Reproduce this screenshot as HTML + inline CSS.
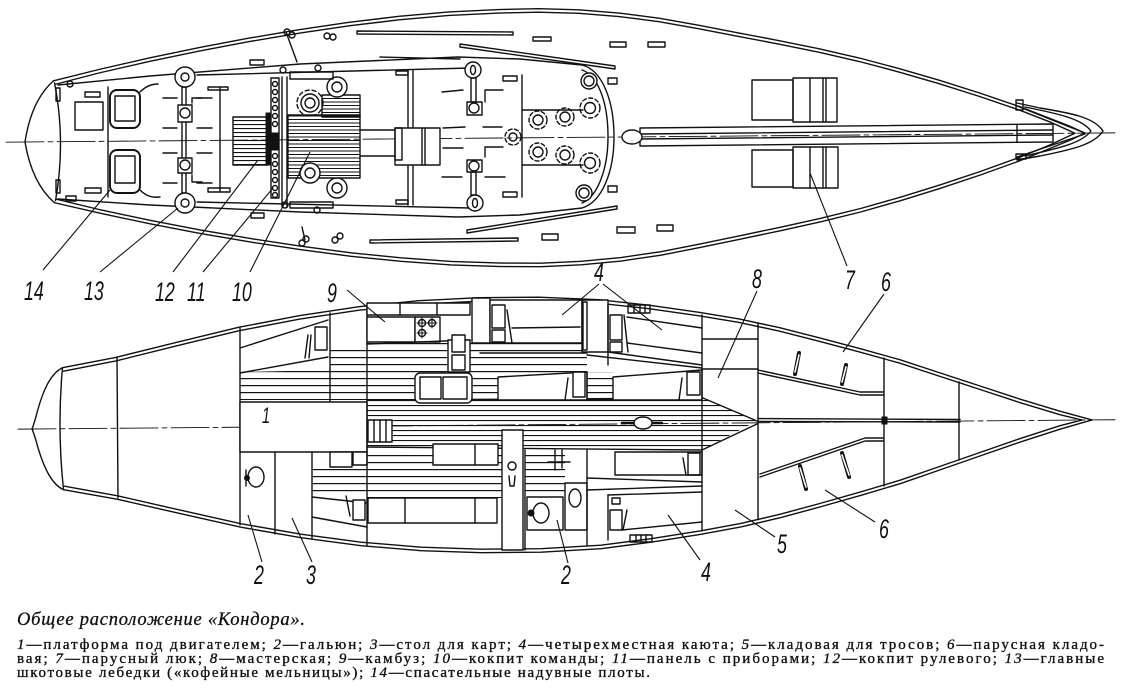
<!DOCTYPE html>
<html><head><meta charset="utf-8">
<style>
html,body{margin:0;padding:0;background:#fff;}
svg{display:block}
.s{fill:none;stroke:#111;stroke-width:1.4;stroke-linejoin:round;stroke-linecap:round}
.w{fill:#fff;stroke:#111;stroke-width:1.4}
.b{fill:#111;stroke:#111;stroke-width:1}
.ld{stroke:#111;stroke-width:1.1;fill:none}
.lb{font-family:"Liberation Sans",sans-serif;font-style:italic;font-size:27px;fill:#111}
.cap{font-family:"Liberation Serif","Noto Serif CJK SC",serif;font-size:15px;fill:#111;stroke:#111;stroke-width:0.35}
.ti{font-family:"Liberation Serif","Noto Serif CJK SC",serif;font-style:italic;font-size:18.5px;fill:#111;stroke:#111;stroke-width:0.3}
</style></head><body>
<svg width="1122" height="689" viewBox="0 0 1122 689" xmlns="http://www.w3.org/2000/svg">
<defs>
<pattern id="h4" width="8" height="4" patternUnits="userSpaceOnUse"><rect width="8" height="1.1" fill="#111"/></pattern>
<pattern id="h35" width="8" height="3.5" patternUnits="userSpaceOnUse"><rect width="8" height="1" fill="#111"/></pattern>
<pattern id="h7" width="8" height="7" patternUnits="userSpaceOnUse"><rect width="8" height="1.2" fill="#111"/></pattern>
<pattern id="h5" width="8" height="5" patternUnits="userSpaceOnUse"><rect width="8" height="1.1" fill="#111"/></pattern>
</defs>

<!-- ================= TOP PLAN HULL ================= -->
<g class="s" transform="translate(0,142) rotate(-0.48,25,0)">
<path d="M54,-61 C38,-47 29,-25 25,0 C29,25 38,47 54,61"/>
<path d="M55,-59 Q66,0 55,59"/>
<polyline points="54,-61 100,-72 150,-83 200,-93 250,-102 300,-110 350,-117 400,-122.5 450,-126.5 500,-128.5 540,-129 580,-127.5 620,-124 660,-118.5 700,-111 740,-103 780,-95 820,-86.5 860,-77 900,-66 940,-54 980,-41 1020,-27 1050,-15 1070,-7 1085,0"/>
<polyline points="54,61 100,72 150,83 200,93 250,102 300,110 350,117 400,122.5 450,126.5 500,128.5 540,129 580,127.5 620,124 660,118.5 700,111 740,103 780,95 820,86.5 860,77 900,66 940,54 980,41 1020,27 1050,15 1070,7 1085,0"/>
<polyline points="56,-57.5 100,-68.5 150,-79.5 200,-89.5 250,-98.5 300,-106.5 350,-113.5 400,-119 450,-123 500,-125 540,-125.5 580,-124 620,-120.5 660,-115 700,-107.5 740,-99.5 780,-91.5 820,-83 860,-73.5 900,-62.5 940,-50.5 980,-37.5 1020,-23.5 1050,-11.5 1075,0"/>
<polyline points="56,57.5 100,68.5 150,79.5 200,89.5 250,98.5 300,106.5 350,113.5 400,119 450,123 500,125 540,125.5 580,124 620,120.5 660,115 700,107.5 740,99.5 780,91.5 820,83 860,73.5 900,62.5 940,50.5 980,37.5 1020,23.5 1050,11.5 1075,0"/>
<line x1="6" y1="0" x2="1118" y2="0" stroke-width="0.9" stroke-dasharray="38 4 5 4"/>
</g>

<!-- ================= TOP PLAN DETAILS ================= -->
<g class="s">
<path d="M58,85 L150,76 L300,64 L458,57 L520,59 L582,65 C602,70 614,100 614,137 C614,172 602,202 582,208 L520,215 L458,217 L300,212 L150,205 L58,199"/>
<path d="M582,70 C597,75 608,100 608,137 C608,170 597,197 582,203"/>
<line x1="197" y1="75" x2="470" y2="68"/>
<line x1="197" y1="202" x2="470" y2="208"/>
<line x1="108" y1="87" x2="108" y2="197"/>
<rect x="75" y="102" width="28" height="28"/>
<rect x="110" y="90" width="30" height="38" rx="7" stroke-width="1.9"/>
<rect x="115" y="96" width="20" height="25"/>
<rect x="110" y="150" width="30" height="43" rx="7" stroke-width="1.9"/>
<rect x="115" y="156" width="20" height="27"/>
<path d="M140,92 C146,86 152,84 158,84"/>
<path d="M140,190 C146,196 152,198 160,197"/>
<rect x="85" y="92" width="15" height="5"/>
<rect x="85" y="188" width="16" height="5"/>
<rect x="56" y="88" width="4" height="13"/>
<rect x="56" y="180" width="4" height="13"/>
<circle cx="70" cy="84" r="3"/>
<rect x="66" y="196" width="10" height="5"/>
<line x1="163" y1="98" x2="177" y2="98"/><line x1="197" y1="98" x2="212" y2="98"/>
<line x1="163" y1="128" x2="177" y2="128"/><line x1="197" y1="128" x2="212" y2="128"/>
<line x1="163" y1="153" x2="177" y2="153"/><line x1="197" y1="153" x2="212" y2="153"/>
<line x1="163" y1="183" x2="177" y2="183"/><line x1="197" y1="183" x2="212" y2="183"/>
<polyline points="192,103 192,98 202,98"/><polyline points="192,175 192,182 202,182"/>
<rect x="182" y="87" width="4" height="106"/>
<rect class="w" x="178" y="105" width="14" height="17"/>
<circle cx="185" cy="113" r="5"/>
<rect class="w" x="178" y="158" width="14" height="15"/>
<circle cx="185" cy="165" r="5"/>
<circle class="w" cx="185" cy="77" r="10" stroke-width="1.9"/>
<circle cx="185" cy="77" r="4"/>
<circle class="w" cx="185" cy="203" r="10" stroke-width="2.4"/>
<circle cx="185" cy="203" r="4"/>
<line x1="220" y1="88" x2="220" y2="192"/>
<rect x="208" y="87" width="20" height="3"/>
<rect x="208" y="188" width="22" height="4"/>
<rect x="233" y="117" width="35" height="48" fill="url(#h4)"/>
<rect class="b" x="266" y="113" width="4" height="52"/>
<rect x="271" y="78" width="8" height="120"/>
<g>
<circle cx="275" cy="84" r="2.5"/><circle cx="275" cy="92" r="2.5"/><circle cx="275" cy="100" r="2.5"/><circle cx="275" cy="108" r="2.5"/><circle cx="275" cy="116" r="2.5"/><circle cx="275" cy="124" r="2.5"/>
<circle cx="275" cy="156" r="2.5"/><circle cx="275" cy="164" r="2.5"/><circle cx="275" cy="172" r="2.5"/><circle cx="275" cy="180" r="2.5"/><circle cx="275" cy="188" r="2.5"/><circle cx="275" cy="195" r="2.5"/>
</g>
<rect class="b" x="271" y="133" width="8" height="17"/>
<line x1="282" y1="77" x2="282" y2="207"/>
<line x1="287" y1="77" x2="287" y2="207"/>
<rect x="288" y="115" width="72" height="63" fill="url(#h35)"/>
<rect x="322" y="95" width="38" height="22" fill="url(#h35)"/>
<circle class="w" cx="337" cy="87" r="10"/><circle cx="337" cy="87" r="5"/>
<circle cx="310" cy="103" r="13" stroke-dasharray="4 3"/>
<circle class="w" cx="310" cy="103" r="9"/><circle cx="310" cy="103" r="5"/>
<circle class="w" cx="310" cy="173" r="10"/><circle cx="310" cy="173" r="5"/>
<circle class="w" cx="337" cy="188" r="10"/><circle cx="337" cy="188" r="5"/>
<circle cx="283" cy="70" r="3"/><circle cx="318" cy="68" r="3"/>
<rect x="290" y="72" width="43" height="7"/>
<circle cx="285" cy="205" r="3"/><circle cx="317" cy="210" r="3"/>
<rect x="290" y="202" width="43" height="6"/>
<line x1="286" y1="32" x2="297" y2="62"/>
<circle cx="287" cy="32" r="3"/><circle cx="292" cy="35" r="3"/>
<circle cx="327" cy="36" r="3"/><circle cx="333" cy="37" r="3"/>
<line x1="302" y1="227" x2="305" y2="240"/>
<circle cx="302" cy="243" r="3"/><circle cx="306" cy="239" r="3"/>
<circle cx="335" cy="240" r="3"/><circle cx="340" cy="236" r="3"/>
<line x1="360" y1="130" x2="395" y2="130"/>
<line x1="360" y1="156" x2="395" y2="156"/>
<line x1="408" y1="70" x2="408" y2="205"/>
<line x1="413" y1="70" x2="413" y2="205"/>
<rect class="w" x="395" y="128" width="45" height="37"/>
<rect x="395" y="128" width="7" height="32"/>
<line x1="422" y1="128" x2="422" y2="165"/>
<line x1="425" y1="128" x2="425" y2="165"/>
<rect x="471" y="78" width="5" height="24"/>
<rect class="w" x="467" y="102" width="15" height="13"/><circle cx="474" cy="108" r="5"/>
<circle class="w" cx="473" cy="70" r="8" stroke-width="2.2"/><ellipse cx="473" cy="70" rx="2.5" ry="4.5"/>
<rect x="471" y="172" width="5" height="23"/>
<rect class="w" x="467" y="160" width="15" height="12"/><circle cx="474" cy="166" r="5"/>
<circle class="w" cx="475" cy="203" r="8" stroke-width="2.8"/><ellipse cx="475" cy="203" rx="2.5" ry="4.5"/>
<line x1="442" y1="92" x2="463" y2="90"/><polyline points="485,102 485,90 503,90"/>
<line x1="443" y1="128" x2="465" y2="127"/><line x1="483" y1="127" x2="502" y2="127"/>
<line x1="443" y1="148" x2="463" y2="148"/><polyline points="503,147 485,147 485,157"/>
<line x1="442" y1="177" x2="462" y2="177"/><line x1="485" y1="177" x2="505" y2="177"/>
<rect x="503" y="76" width="14" height="5"/>
<rect x="503" y="192" width="14" height="5"/>
<line x1="522" y1="75" x2="522" y2="197"/>
<line x1="522" y1="110" x2="583" y2="110"/>
<line x1="522" y1="165" x2="583" y2="165"/>
<circle cx="513" cy="137" r="8" stroke-dasharray="4 2.5"/><circle cx="513" cy="137" r="4"/>
<circle cx="538" cy="120" r="9" stroke-dasharray="4 2.5"/><circle cx="538" cy="120" r="5"/>
<circle cx="565" cy="117" r="9" stroke-dasharray="4 2.5"/><circle cx="565" cy="117" r="5"/>
<circle cx="538" cy="152" r="9" stroke-dasharray="4 2.5"/><circle cx="538" cy="152" r="5"/>
<circle cx="565" cy="155" r="9" stroke-dasharray="4 2.5"/><circle cx="565" cy="155" r="5"/>
<circle class="w" cx="589" cy="81" r="8"/><circle cx="589" cy="81" r="5"/>
<circle cx="590" cy="108" r="10" stroke-dasharray="4 2.5"/><circle cx="590" cy="108" r="5.5"/>
<circle cx="590" cy="163" r="10" stroke-dasharray="4 2.5"/><circle cx="590" cy="163" r="5.5"/>
<circle class="w" cx="584" cy="193" r="8"/><circle cx="584" cy="193" r="5"/>
<rect x="608" y="78" width="9" height="6"/><rect x="608" y="186" width="9" height="6"/>
<polygon points="357,31 513,32 513,35 357,34"/>
<polygon points="370,240 518,238 518,241 370,243"/>
<polygon points="460,44 615,66 615,69 460,47"/>
<polygon points="467,230 617,206 617,209 467,233"/>
<line x1="380" y1="57" x2="460" y2="59"/>
<rect x="533" y="37" width="18" height="4"/>
<rect x="610" y="42" width="16" height="5"/>
<rect x="648" y="42" width="17" height="5"/>
<rect x="250" y="60" width="14" height="5"/>
<rect x="617" y="227" width="18" height="6"/>
<rect x="657" y="225" width="16" height="6"/>
<rect x="542" y="234" width="16" height="6"/>
<rect x="251" y="213" width="13" height="5"/>
<rect x="396" y="71" width="12" height="4"/><rect x="396" y="200" width="12" height="4"/>
<polygon points="640,128 1053,124 1053,142 640,146"/>
<line x1="640" y1="134" x2="1053" y2="130"/>
<line x1="640" y1="139" x2="1053" y2="135"/>
<line x1="1017" y1="125" x2="1017" y2="142"/>
<ellipse class="w" cx="632" cy="137" rx="10" ry="7"/>
<rect x="752" y="80" width="41" height="40"/>
<rect x="793" y="78" width="44" height="44"/>
<line x1="810" y1="78" x2="810" y2="122"/><line x1="823" y1="78" x2="823" y2="122"/><line x1="826" y1="78" x2="826" y2="122"/>
<rect x="752" y="150" width="41" height="37"/>
<rect x="793" y="147" width="45" height="41"/>
<line x1="810" y1="147" x2="810" y2="188"/><line x1="823" y1="147" x2="823" y2="188"/><line x1="826" y1="147" x2="826" y2="188"/>
<path d="M1017,103 L1040,108 C1070,113 1094,117 1103,131 C1094,145 1070,150 1040,156 L1017,160"/>
<path d="M1025,107 C1060,114 1082,119 1091,131 C1082,143 1060,148 1025,156"/>
<line x1="1017" y1="106" x2="1085" y2="133"/>
<line x1="1017" y1="157" x2="1085" y2="134"/>
<rect x="1016" y="100" width="7" height="10"/>
<rect x="1016" y="154" width="10" height="5"/>
</g>

<g class="ld">
<line x1="43" y1="270" x2="110" y2="190"/>
<line x1="100" y1="272" x2="178" y2="208"/>
<line x1="173" y1="272" x2="258" y2="160"/>
<line x1="203" y1="272" x2="273" y2="188"/>
<line x1="250" y1="272" x2="310" y2="152"/>
<line x1="847" y1="266" x2="810" y2="173"/>
</g>
<text class="lb" transform="translate(24,300) scale(0.66,1)">14</text>
<text class="lb" transform="translate(84,300) scale(0.66,1)">13</text>
<text class="lb" transform="translate(155,301) scale(0.66,1)">12</text>
<text class="lb" transform="translate(187,301) scale(0.66,1)">11</text>
<text class="lb" transform="translate(232,301) scale(0.66,1)">10</text>
<text class="lb" transform="translate(845,289) scale(0.66,1)">7</text>

<!-- ================= BOTTOM PLAN HULL ================= -->
<g class="s" transform="translate(0,429) rotate(-0.49,32,0)">
<path d="M63,-61 C50,-55 42,-35 36,-12 Q33,-2 32,0 Q33,2 36,12 C42,35 50,55 63,61"/>
<path d="M63,-61 Q57,0 63,61"/>
<polyline points="63,-61 117,-71 180,-86 240,-100 300,-111 360,-119.5 420,-125 480,-127.5 540,-127.5 600,-124.5 650,-118.5 700,-111 740,-104 780,-95 820,-84.5 860,-73.5 900,-62 940,-48.5 980,-35 1020,-21.5 1060,-9 1092,0"/>
<polyline points="63,61 117,71 180,86 240,100 300,111 360,119.5 420,125 480,127.5 540,127.5 600,124.5 650,118.5 700,111 740,104 780,95 820,84.5 860,73.5 900,62 940,48.5 980,35 1020,21.5 1060,9 1092,0"/>
<polyline points="64,-57.5 117,-67.5 180,-82.5 240,-96.5 300,-107.5 360,-116 420,-121.5 480,-124 540,-124 600,-121 650,-115 700,-107.5 740,-100.5 780,-91.5 820,-81 860,-70 900,-58.5 940,-45 980,-31.5 1020,-18 1060,-5.5 1082,0"/>
<polyline points="64,57.5 117,67.5 180,82.5 240,96.5 300,107.5 360,116 420,121.5 480,124 540,124 600,121 650,115 700,107.5 740,100.5 780,91.5 820,81 860,70 900,58.5 940,45 980,31.5 1020,18 1060,5.5 1082,0"/>
<line x1="18" y1="0" x2="1115" y2="0" stroke-width="0.9" stroke-dasharray="38 4 5 4"/>
</g>

<!-- ================= BOTTOM PLAN DETAILS ================= -->
<g class="s">
<line x1="117" y1="357" x2="118" y2="498"/>
<line x1="240" y1="328" x2="240" y2="525"/>
<line x1="330" y1="313" x2="330" y2="402"/>
<polygon points="240,372 330,370 330,400 240,400" fill="url(#h7)" stroke="none"/>
<polygon points="330,345 367,345 367,400 330,400" fill="url(#h7)" stroke="none"/>
<line x1="240" y1="348" x2="328" y2="320"/>
<line x1="240" y1="373" x2="328" y2="357"/>
<rect class="w" x="315" y="327" width="12" height="23"/>
<line x1="308" y1="335" x2="305" y2="358"/>
<line x1="311" y1="335" x2="309" y2="358"/>
<rect class="w" x="240" y="402" width="127" height="50"/>
<line x1="275" y1="452" x2="275" y2="534"/>
<line x1="312" y1="452" x2="312" y2="538"/>
<ellipse cx="256" cy="477" rx="8" ry="10"/>
<circle class="b" cx="247" cy="478" r="2.5"/>
<line x1="246" y1="470" x2="246" y2="486"/>
<rect x="312" y="466" width="55" height="28" fill="url(#h7)" stroke="none"/>
<rect class="w" x="330" y="452" width="22" height="15"/>
<rect class="w" x="353" y="452" width="14" height="13"/>
<line x1="312" y1="497" x2="367" y2="503"/>
<line x1="312" y1="517" x2="367" y2="527"/>
<rect class="w" x="353" y="500" width="12" height="20"/>
<line x1="346" y1="496" x2="350" y2="516"/>
<rect x="367" y="342" width="220" height="58" fill="url(#h7)" stroke="none"/>
<polygon points="367,400 703,398 757,421 702,450 367,447" fill="url(#h5)" stroke="none"/>
<polyline points="367,400 703,398 757,421"/>
<polyline points="367,447 702,450 757,424"/>
<rect x="367" y="452" width="135" height="46" fill="url(#h7)" stroke="none"/>
<rect x="525" y="452" width="40" height="44" fill="url(#h7)" stroke="none"/>
<line x1="367" y1="306" x2="367" y2="545"/>
<rect class="w" x="367" y="303" width="103" height="12"/>
<line x1="400" y1="303" x2="400" y2="315"/><line x1="437" y1="303" x2="437" y2="315"/>
<rect class="w" x="367" y="317" width="48" height="25"/>
<rect class="w" x="415" y="317" width="25" height="25"/>
<circle cx="422" cy="323" r="3.5"/><circle cx="432" cy="323" r="3.5"/><circle cx="422" cy="333" r="3.5"/>
<path d="M417,323 h10 M422,318 v10 M427,323 h10 M432,318 v10 M417,333 h10 M422,328 v10" stroke-width="1"/>
<rect class="w" x="472" y="298" width="18" height="45"/>
<line x1="367" y1="344" x2="470" y2="340"/>
<rect class="w" x="448" y="340" width="22" height="32"/>
<rect class="w" x="452" y="335" width="13" height="17"/>
<rect class="w" x="452" y="355" width="13" height="15"/>
<rect class="w" x="415" y="373" width="57" height="30" rx="5" stroke-width="1.6"/>
<rect x="420" y="377" width="21" height="22"/>
<rect x="443" y="377" width="24" height="22"/>
<rect class="w" x="368" y="420" width="24" height="22"/>
<line x1="374" y1="420" x2="374" y2="442"/><line x1="380" y1="420" x2="380" y2="442"/><line x1="386" y1="420" x2="386" y2="442"/>
<rect class="w" x="433" y="444" width="65" height="21"/>
<line x1="475" y1="444" x2="475" y2="465"/>
<rect class="w" x="368" y="498" width="129" height="25"/>
<line x1="405" y1="498" x2="405" y2="523"/><line x1="475" y1="498" x2="475" y2="523"/>
<rect class="w" x="490" y="300" width="92" height="43"/>
<rect x="492" y="305" width="13" height="23"/>
<rect x="492" y="330" width="13" height="12"/>
<line x1="507" y1="310" x2="512" y2="343"/>
<line x1="512" y1="328" x2="580" y2="327"/>
<rect class="w" x="582" y="300" width="26" height="52"/>
<rect x="583" y="302" width="4" height="48"/>
<line x1="608" y1="305" x2="608" y2="365"/>
<rect x="610" y="315" width="12" height="25"/>
<rect x="610" y="342" width="12" height="10"/>
<line x1="624" y1="315" x2="628" y2="352"/>
<line x1="627" y1="317" x2="702" y2="328"/>
<line x1="627" y1="343" x2="702" y2="353"/>
<line x1="608" y1="352" x2="702" y2="365"/>
<line x1="587" y1="355" x2="702" y2="368"/>
<rect x="628" y="305" width="22" height="8"/>
<line x1="634" y1="305" x2="634" y2="313"/><line x1="640" y1="305" x2="640" y2="313"/><line x1="645" y1="305" x2="645" y2="313"/>
<line x1="480" y1="353" x2="587" y2="353"/>
<polygon class="w" points="498,400 498,377 587,372 587,400"/>
<rect class="w" x="573" y="372" width="12" height="25"/>
<line x1="568" y1="378" x2="565" y2="400"/>
<rect x="587" y="372" width="26" height="28" fill="url(#h7)" stroke="none"/>
<line x1="587" y1="372" x2="587" y2="400"/>
<polygon class="w" points="613,400 613,377 702,370 702,400"/>
<rect class="w" x="687" y="372" width="13" height="23"/>
<line x1="682" y1="378" x2="679" y2="400"/>
<line x1="622" y1="423" x2="662" y2="423" stroke-width="2.4"/>
<ellipse class="w" cx="643" cy="423" rx="9" ry="6"/>
<rect class="w" x="502" y="430" width="21" height="120"/>
<path d="M512,470 a4,4 0 1,1 0.1,0 M509,476 L510,486 L514,486 L515,476"/>
<line x1="525" y1="450" x2="525" y2="550"/>
<line x1="555" y1="450" x2="555" y2="470"/><line x1="562" y1="450" x2="562" y2="468"/><line x1="548" y1="462" x2="570" y2="462"/>
<rect class="w" x="527" y="497" width="36" height="33"/>
<ellipse class="w" cx="541" cy="513" rx="8" ry="10"/>
<circle class="b" cx="531" cy="513" r="3"/>
<rect class="w" x="565" y="483" width="22" height="47"/>
<ellipse cx="575" cy="498" rx="6" ry="9"/>
<line x1="587" y1="450" x2="587" y2="546"/>
<rect class="w" x="615" y="452" width="87" height="23"/>
<rect x="688" y="453" width="12" height="22"/>
<line x1="683" y1="458" x2="686" y2="475"/>
<line x1="587" y1="478" x2="702" y2="482"/>
<line x1="587" y1="490" x2="702" y2="486"/>
<line x1="608" y1="495" x2="608" y2="540"/>
<line x1="608" y1="495" x2="702" y2="492"/>
<rect x="612" y="498" width="8" height="6"/>
<rect x="610" y="510" width="12" height="20"/>
<line x1="627" y1="510" x2="623" y2="530"/>
<line x1="622" y1="530" x2="702" y2="522"/>
<rect x="630" y="535" width="22" height="7"/>
<line x1="636" y1="535" x2="636" y2="542"/><line x1="641" y1="535" x2="641" y2="542"/><line x1="646" y1="535" x2="646" y2="542"/>
<line x1="702" y1="315" x2="702" y2="531"/>
<line x1="758" y1="323" x2="758" y2="519"/>
<line x1="702" y1="339" x2="758" y2="339"/>
<line x1="702" y1="369" x2="758" y2="369"/>
<line x1="884" y1="358" x2="884" y2="486"/>
<line x1="959" y1="382" x2="959" y2="460"/>
<polyline points="758,370 860,392 883,392"/>
<polyline points="758,373 860,395 883,395"/>
<polyline points="760,477 865,441 883,441"/>
<polyline points="760,474 865,438 883,438"/>
<line x1="758" y1="418.5" x2="960" y2="419.5"/>
<line x1="758" y1="421.5" x2="960" y2="422"/>
<rect class="b" x="882" y="417" width="5" height="7"/>
</g>
<g stroke="#111" stroke-width="4" stroke-linecap="round">
<line x1="799" y1="353" x2="795" y2="374"/><line x1="846" y1="365" x2="842" y2="384"/>
<line x1="800" y1="466" x2="806" y2="489"/><line x1="842" y1="453" x2="849" y2="477"/>
</g>
<g stroke="#fff" stroke-width="1.6" stroke-linecap="round">
<line x1="799" y1="355" x2="795" y2="372"/><line x1="846" y1="367" x2="842" y2="382"/>
<line x1="800" y1="468" x2="806" y2="487"/><line x1="842" y1="455" x2="849" y2="475"/>
</g>

<g class="ld">
<line x1="347" y1="290" x2="385" y2="322"/>
<line x1="599" y1="284" x2="562" y2="315"/>
<line x1="603" y1="284" x2="662" y2="330"/>
<line x1="757" y1="291" x2="718" y2="378"/>
<line x1="884" y1="294" x2="843" y2="352"/>
<line x1="262" y1="562" x2="248" y2="515"/>
<line x1="312" y1="562" x2="292" y2="518"/>
<line x1="568" y1="563" x2="557" y2="520"/>
<line x1="700" y1="560" x2="668" y2="515"/>
<line x1="775" y1="537" x2="735" y2="510"/>
<line x1="875" y1="522" x2="825" y2="490"/>
</g>
<text class="lb" transform="translate(327,302) scale(0.66,1)">9</text>
<text class="lb" transform="translate(594,281) scale(0.66,1)">4</text>
<text class="lb" transform="translate(752,288) scale(0.66,1)">8</text>
<text class="lb" transform="translate(881,291) scale(0.66,1)">6</text>
<text class="lb" transform="translate(262,423) scale(0.66,1)" style="font-size:22px">1</text>
<text class="lb" transform="translate(254,584) scale(0.66,1)">2</text>
<text class="lb" transform="translate(306,584) scale(0.66,1)">3</text>
<text class="lb" transform="translate(561,584) scale(0.66,1)">2</text>
<text class="lb" transform="translate(701,581) scale(0.66,1)">4</text>
<text class="lb" transform="translate(777,553) scale(0.66,1)">5</text>
<text class="lb" transform="translate(879,538) scale(0.66,1)">6</text>

<!-- ================= CAPTION ================= -->
<text class="ti" x="17" y="625" textLength="288" lengthAdjust="spacing">Общее расположение «Кондора».</text>
<text class="cap" x="17" y="649" textLength="1087" lengthAdjust="spacing"><tspan font-style="italic">1</tspan>—платформа под двигателем; <tspan font-style="italic">2</tspan>—гальюн; <tspan font-style="italic">3</tspan>—стол для карт; <tspan font-style="italic">4</tspan>—четырехместная каюта; <tspan font-style="italic">5</tspan>—кладовая для тросов; <tspan font-style="italic">6</tspan>—парусная кладо-</text>
<text class="cap" x="17" y="663" textLength="1087" lengthAdjust="spacing">вая; <tspan font-style="italic">7</tspan>—парусный люк; <tspan font-style="italic">8</tspan>—мастерская; <tspan font-style="italic">9</tspan>—камбуз; <tspan font-style="italic">10</tspan>—кокпит команды; <tspan font-style="italic">11</tspan>—панель с приборами; <tspan font-style="italic">12</tspan>—кокпит рулевого; <tspan font-style="italic">13</tspan>—главные</text>
<text class="cap" x="17" y="677" textLength="633" lengthAdjust="spacing">шкотовые лебедки («кофейные мельницы»); <tspan font-style="italic">14</tspan>—спасательные надувные плоты.</text>
</svg>
</body></html>
